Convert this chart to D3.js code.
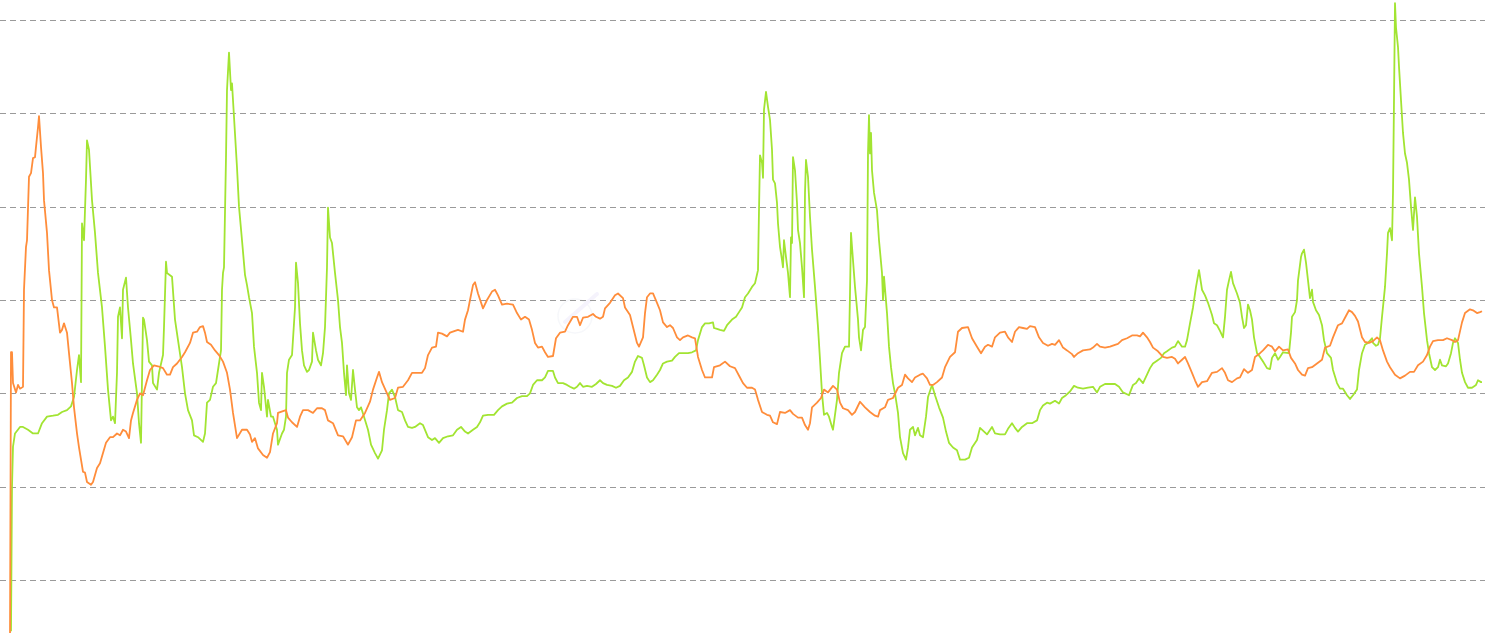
<!DOCTYPE html>
<html>
<head>
<meta charset="utf-8">
<script src="https://cdn.jsdelivr.net/npm/d3@7/dist/d3.min.js"></script>
<style>
  html, body { margin: 0; padding: 0; background: #ffffff; overflow: hidden; }
  svg { display: block; }
</style>
</head>
<body>
<svg id="chart" width="1490" height="633"></svg>
<script>
// ---- data ----
const yTicks = [0, 10, 20, 30, 40, 50, 60];
const tDomain = [0, 1473];

// orange series: [time index, value]
const seriesOrange = [
[0,-6.4],[1,24.4],[2,24.4],[3,21.1],[6,20.1],[8,20.9],[10,20.5],[13,20.7],[14,31.1],[16,35.7],[17,36.4],[19,43.2],[21,43.6],[23,45.2],[25,45.3],[26,46.4],[28,48.5],[29,49.7],[31,46.4],[33,43.6],[34,40.7],[37,37.2],[39,33.2],[42,30.0],[44,29.2],[47,29.2],[50,26.5],[52,26.8],[54,27.5],[57,26.5],[59,24.3],[62,21.1],[64,18.5],[67,15.7],[69,14.2],[73,11.6],[75,11.5],[77,10.5],[81,10.2],[83,10.5],[87,12.0],[90,12.5],[93,13.6],[96,14.7],[100,15.3],[103,15.3],[107,15.7],[110,15.5],[113,16.1],[116,15.9],[119,15.2],[121,17.1],[123,17.9],[127,19.3],[130,20.0],[133,19.8],[137,21.4],[140,22.5],[144,23.0],[148,22.9],[153,22.7],[157,22.0],[160,22.0],[163,22.8],[167,23.2],[172,23.9],[175,24.4],[180,25.4],[183,26.5],[187,26.6],[190,27.1],[193,27.2],[195,26.5],[197,25.5],[201,25.2],[205,24.6],[209,24.1],[213,23.4],[217,22.2],[220,20.4],[223,17.9],[227,15.2],[232,16.1],[237,16.1],[240,15.6],[242,14.8],[245,15.2],[248,14.1],[253,13.4],[257,13.1],[260,13.7],[263,15.7],[267,16.8],[268,17.9],[273,18.1],[276,18.2],[278,17.4],[282,16.9],[287,16.4],[290,17.5],[293,18.2],[298,18.2],[303,17.9],[307,18.4],[312,18.4],[315,18.2],[318,17.1],[323,16.8],[328,15.5],[333,15.4],[338,14.5],[342,15.3],[346,17.1],[350,17.1],[355,17.9],[360,19.1],[363,20.4],[367,21.7],[369,22.3],[372,21.2],[377,20.0],[380,19.3],[385,19.5],[388,20.6],[393,20.7],[398,21.4],[402,22.2],[407,22.2],[412,22.2],[415,22.7],[418,24.1],[422,24.9],[426,25.0],[428,26.5],[432,26.4],[437,26.1],[440,26.5],[445,26.7],[448,26.8],[453,26.6],[455,27.9],[458,28.9],[460,30.0],[463,31.6],[465,31.9],[468,30.7],[473,29.1],[477,30.0],[482,30.9],[485,31.1],[488,30.5],[492,29.5],[497,29.6],[503,29.5],[507,28.6],[511,27.9],[515,28.2],[519,27.9],[522,26.8],[525,25.4],[528,24.9],[532,25.0],[535,24.4],[538,23.9],[543,24.0],[546,25.9],[550,26.5],[555,26.6],[558,27.3],[563,28.2],[567,28.2],[570,27.3],[573,28.1],[578,28.2],[583,28.5],[586,28.2],[590,28.0],[593,28.2],[595,29.1],[600,29.7],[605,30.5],[608,30.7],[613,30.2],[615,29.2],[620,28.4],[623,27.1],[627,25.4],[629,25.0],[633,26.0],[635,28.6],[637,30.3],[640,30.7],[643,30.7],[647,29.7],[650,28.9],[653,27.6],[657,27.1],[660,27.3],[663,27.0],[667,26.0],[670,25.7],[673,26.0],[678,26.2],[682,26.0],[685,25.9],[688,23.9],[692,22.5],[695,21.7],[698,21.7],[702,21.7],[704,22.8],[710,23.0],[715,23.4],[720,22.9],[725,22.7],[730,21.7],[733,21.1],[737,20.6],[742,20.6],[745,20.4],[748,19.3],[752,18.0],[757,17.7],[760,17.6],[763,16.9],[767,16.7],[770,18.0],[775,17.9],[780,18.2],[783,17.8],[788,17.4],[792,17.4],[795,16.6],[798,16.1],[800,16.8],[802,18.5],[807,19.0],[811,19.5],[814,20.4],[818,20.1],[823,20.8],[827,20.4],[830,19.0],[833,18.4],[838,18.2],[842,17.7],[845,18.0],[850,19.1],[855,18.5],[860,18.0],[865,17.6],[868,17.5],[870,18.2],[875,18.5],[878,19.3],[883,19.5],[888,20.6],[892,20.9],[895,22.0],[898,21.6],[902,21.2],[905,21.7],[910,22.0],[913,22.1],[917,21.6],[920,20.9],[923,20.9],[927,21.2],[932,21.7],[935,22.8],[940,23.9],[945,24.4],[948,26.6],[952,27.0],[958,27.1],[962,25.9],[967,25.0],[971,24.3],[975,25.0],[978,25.2],[982,25.0],[985,26.0],[990,26.5],[995,26.6],[998,26.0],[1002,25.5],[1005,26.6],[1009,27.1],[1013,27.0],[1017,26.9],[1020,27.2],[1025,27.1],[1029,26.0],[1033,25.4],[1038,25.1],[1042,25.3],[1045,25.2],[1049,25.7],[1053,24.9],[1057,24.6],[1062,24.2],[1064,23.9],[1068,24.3],[1073,24.6],[1080,24.7],[1083,24.9],[1087,25.3],[1090,25.0],[1095,24.9],[1100,25.0],[1105,25.2],[1108,25.3],[1112,25.7],[1117,25.9],[1122,26.2],[1127,26.2],[1130,26.1],[1133,26.5],[1137,26.0],[1140,25.5],[1143,24.9],[1148,24.5],[1153,23.9],[1157,23.8],[1162,23.9],[1165,23.7],[1168,23.2],[1172,23.6],[1175,23.9],[1178,23.2],[1182,22.2],[1185,21.4],[1188,20.7],[1192,21.2],[1197,21.3],[1202,22.2],[1207,22.3],[1212,22.7],[1215,22.2],[1218,21.4],[1222,21.2],[1227,21.6],[1230,21.7],[1234,22.6],[1238,22.2],[1242,22.5],[1245,23.9],[1250,24.3],[1253,24.6],[1258,25.2],[1262,25.0],[1265,24.5],[1269,25.0],[1273,24.6],[1278,24.7],[1281,23.8],[1285,23.2],[1288,22.5],[1292,22.0],[1295,21.9],[1298,22.7],[1302,22.8],[1307,23.2],[1312,23.6],[1315,24.9],[1320,25.1],[1323,26.0],[1328,27.3],[1332,27.5],[1335,28.1],[1339,28.9],[1342,28.7],[1345,28.3],[1348,27.7],[1352,26.0],[1355,25.5],[1359,25.4],[1363,25.6],[1367,26.0],[1370,25.7],[1373,24.6],[1377,23.4],[1380,22.8],[1385,22.0],[1390,21.6],[1395,21.9],[1400,22.3],[1404,22.3],[1408,23.0],[1413,23.4],[1417,24.1],[1420,25.0],[1423,25.6],[1428,25.7],[1433,25.7],[1437,25.9],[1442,25.7],[1445,25.5],[1448,25.7],[1452,27.6],[1455,28.6],[1460,29.0],[1463,28.9],[1467,28.6],[1470,28.7],[1472,28.8]
];

// green series: [time index, value]
const seriesGreen = [
[1,-5.5],[2,10.0],[3,14.3],[5,15.7],[10,16.4],[13,16.4],[18,16.1],[23,15.7],[28,15.7],[32,16.8],[37,17.5],[43,17.6],[48,17.7],[52,18.0],[57,18.2],[61,18.6],[64,19.6],[67,22.5],[69,24.1],[71,21.2],[72,38.2],[74,36.4],[76,42.9],[77,47.1],[79,46.1],[82,40.7],[85,37.2],[88,32.9],[92,29.2],[95,25.0],[98,20.4],[101,17.1],[103,17.5],[105,16.8],[107,22.2],[108,28.2],[110,29.2],[112,25.9],[113,31.1],[116,32.4],[118,29.2],[121,25.7],[123,23.2],[127,20.0],[129,16.8],[131,14.7],[133,28.1],[134,27.9],[137,25.7],[139,23.4],[142,23.0],[143,21.1],[147,20.4],[149,22.2],[153,24.1],[154,27.1],[156,34.1],[157,32.9],[162,32.5],[165,27.9],[168,25.7],[172,22.8],[175,20.0],[178,18.2],[182,17.1],[184,15.5],[188,15.3],[193,14.8],[195,15.7],[197,19.0],[200,19.3],[203,20.7],[206,21.1],[208,22.5],[211,24.6],[212,31.1],[213,32.9],[214,33.5],[216,45.3],[217,52.5],[219,56.5],[221,52.5],[222,53.2],[224,49.6],[227,44.2],[229,40.0],[232,36.4],[235,32.7],[237,31.6],[239,30.3],[242,28.6],[244,25.0],[247,22.2],[249,19.0],[251,18.2],[252,22.2],[254,20.7],[257,17.5],[258,19.3],[261,17.5],[263,17.5],[267,16.1],[268,14.5],[272,15.7],[274,16.1],[276,17.5],[277,22.2],[279,23.6],[282,24.1],[285,29.2],[286,34.0],[288,31.8],[290,27.5],[292,24.6],[294,23.0],[297,22.3],[299,22.5],[302,23.4],[303,26.5],[306,24.6],[308,23.6],[311,23.0],[313,24.3],[315,27.1],[317,33.5],[318,39.9],[320,36.7],[322,36.1],[325,32.9],[328,30.0],[330,27.1],[332,25.4],[334,22.2],[336,19.8],[337,23.0],[339,20.0],[341,19.3],[343,22.5],[345,20.4],[347,18.5],[349,18.2],[351,18.5],[354,17.5],[358,16.1],[361,14.5],[365,13.6],[368,13.0],[372,13.9],[374,16.1],[377,18.2],[379,20.0],[382,20.4],[385,19.6],[388,18.2],[392,18.0],[395,17.1],[398,16.4],[402,16.3],[405,16.4],[410,16.8],[413,16.6],[418,15.3],[422,15.0],[425,15.2],[429,14.7],[433,15.2],[438,15.4],[443,15.5],[447,16.1],[451,16.4],[455,15.9],[458,15.7],[463,16.1],[467,16.4],[470,16.9],[473,17.6],[478,17.7],[484,17.7],[488,18.2],[492,18.6],[497,18.9],[502,19.0],[507,19.5],[512,19.7],[517,19.7],[520,20.0],[523,20.9],[527,21.4],[532,21.4],[535,21.7],[538,22.4],[543,22.4],[545,21.7],[548,21.1],[553,21.1],[557,20.9],[560,20.7],[564,20.5],[567,20.7],[570,21.1],[573,20.7],[577,20.8],[582,20.7],[586,21.0],[590,21.4],[593,21.1],[597,20.9],[602,20.8],[606,20.6],[610,20.8],[614,21.4],[618,21.7],[622,22.3],[625,23.4],[628,24.0],[632,23.8],[634,23.0],[637,21.7],[640,21.2],[643,21.4],[647,22.0],[650,22.5],[653,23.2],[657,23.4],[662,23.5],[665,23.9],[669,24.3],[673,24.3],[678,24.3],[682,24.4],[686,24.6],[688,25.7],[692,27.1],[695,27.5],[699,27.5],[703,27.6],[704,27.0],[707,26.9],[710,26.8],[714,26.7],[717,27.3],[722,27.9],[726,28.2],[729,28.7],[732,29.2],[735,30.3],[738,30.7],[742,31.4],[745,31.8],[748,33.2],[749,39.6],[750,45.5],[752,44.7],[753,43.1],[754,50.4],[756,52.3],[758,50.7],[760,49.3],[762,46.1],[763,42.9],[765,42.5],[767,40.4],[768,38.2],[770,35.7],[772,34.3],[773,33.5],[774,36.4],[776,34.6],[778,32.9],[780,30.3],[781,36.7],[782,36.1],[783,45.3],[785,43.9],[787,40.4],[788,37.5],[790,36.1],[792,33.5],[794,30.3],[795,41.5],[796,45.0],[798,43.2],[800,38.9],[802,35.4],[805,31.4],[808,27.1],[810,23.6],[812,20.0],[814,17.7],[817,17.9],[819,17.5],[822,16.4],[823,16.1],[827,19.3],[829,22.2],[832,24.3],[835,25.0],[839,25.0],[840,30.7],[841,37.2],[842,35.7],[845,31.4],[848,27.9],[849,26.0],[851,24.6],[853,26.8],[855,27.1],[857,32.1],[858,45.7],[859,49.8],[860,45.7],[861,47.9],[862,43.9],[864,41.5],[867,39.6],[869,36.4],[872,32.9],[873,30.0],[874,32.5],[877,28.6],[879,25.0],[881,22.8],[883,21.1],[885,20.0],[888,17.9],[890,15.3],[893,13.6],[896,12.9],[898,14.2],[900,16.1],[903,16.4],[905,15.5],[908,16.3],[910,15.5],[913,15.3],[916,17.5],[918,19.6],[922,20.9],[925,19.8],[929,18.5],[933,17.4],[936,15.9],[939,14.7],[943,14.2],[947,13.9],[950,12.9],[955,12.9],[959,13.1],[962,14.2],[967,15.0],[970,16.3],[973,16.0],[977,15.6],[982,16.4],[985,15.7],[990,15.6],[995,15.6],[998,16.2],[1002,16.8],[1005,16.3],[1008,15.9],[1012,16.4],[1017,16.8],[1022,16.8],[1027,17.1],[1030,18.2],[1033,18.7],[1037,19.0],[1040,18.9],[1045,19.2],[1049,18.9],[1052,19.5],[1056,19.8],[1060,20.2],[1064,20.8],[1068,20.6],[1073,20.5],[1078,20.6],[1083,20.7],[1087,20.1],[1090,20.7],[1095,21.0],[1100,21.0],[1105,21.0],[1109,20.7],[1113,20.1],[1117,19.9],[1119,19.8],[1123,20.9],[1126,21.1],[1129,21.6],[1133,21.1],[1137,22.0],[1140,22.7],[1143,23.2],[1147,23.5],[1151,23.8],[1154,24.3],[1157,24.5],[1162,24.9],[1165,25.0],[1168,25.6],[1172,25.0],[1175,25.0],[1177,25.7],[1180,27.5],[1183,29.2],[1186,31.4],[1189,33.2],[1192,31.1],[1195,30.5],[1198,29.7],[1202,28.4],[1204,27.5],[1207,27.3],[1210,26.7],[1213,26.0],[1215,28.2],[1217,31.1],[1219,32.1],[1221,33.0],[1223,31.8],[1227,30.7],[1230,29.7],[1232,28.2],[1234,27.0],[1236,27.3],[1238,29.5],[1240,28.9],[1242,27.9],[1244,26.0],[1247,24.3],[1250,23.9],[1253,23.4],[1257,22.7],[1260,22.6],[1262,23.8],[1265,24.3],[1268,23.6],[1270,23.9],[1273,24.4],[1279,24.3],[1281,26.5],[1282,28.2],[1285,28.7],[1287,30.0],[1288,32.1],[1291,34.6],[1292,35.0],[1294,35.4],[1296,34.0],[1298,32.1],[1300,30.2],[1302,31.1],[1303,29.8],[1306,28.9],[1309,28.4],[1312,27.3],[1314,25.7],[1317,24.3],[1321,23.8],[1323,22.5],[1327,21.1],[1330,20.5],[1333,20.5],[1337,19.8],[1340,19.4],[1343,19.8],[1347,20.4],[1349,22.5],[1352,24.3],[1355,25.2],[1358,25.4],[1362,25.9],[1363,25.4],[1366,25.1],[1368,25.2],[1370,25.9],[1372,28.2],[1375,31.4],[1377,35.0],[1378,37.2],[1380,37.7],[1382,36.4],[1383,41.5],[1384,51.4],[1385,61.8],[1386,59.2],[1388,57.1],[1389,55.0],[1391,51.4],[1393,47.9],[1395,45.7],[1397,44.7],[1399,42.9],[1401,40.0],[1403,37.5],[1405,41.0],[1407,38.9],[1409,35.0],[1412,31.4],[1414,28.6],[1417,25.7],[1419,24.3],[1422,22.8],[1425,22.5],[1428,22.8],[1430,23.6],[1432,23.0],[1436,22.9],[1438,23.2],[1441,24.3],[1443,25.4],[1445,25.9],[1448,25.4],[1450,23.6],[1452,22.2],[1455,21.2],[1458,20.6],[1462,20.6],[1466,20.9],[1468,21.4],[1471,21.2],[1472,21.2]
];

const colorOrange = "#ff8d3b";
const colorGreen = "#a2e432";

// ---- layout ----
const svg = d3.select("#chart");

const x = d3.scaleLinear().domain(tDomain).range([10, 1483]);
const y = d3.scaleLinear().domain([0, 60]).range([580, 20]);

// watermark (faint)
const wm = svg.append("g").attr("transform", "translate(575,316)").attr("opacity", 0.5);
wm.append("circle").attr("r", 17).attr("fill", "none").attr("stroke", "#eef0f6").attr("stroke-width", 1.5);
wm.append("path").attr("d", "M-10,6 L22,-22").attr("stroke", "#ece8fb").attr("stroke-width", 4).attr("stroke-linecap", "round");

// gridlines (axis with full-width ticks, no labels)
const grid = svg.append("g")
  .attr("class", "grid")
  .call(d3.axisLeft(y).tickValues(yTicks).tickSize(-1485).tickFormat(""));
grid.select(".domain").remove();
grid.selectAll(".tick line")
  .attr("stroke", "#9a9a9a")
  .attr("stroke-width", 1)
  .attr("stroke-dasharray", "6,4")
  .attr("shape-rendering", "crispEdges");

const line = d3.line()
  .x(d => x(d[0]))
  .y(d => y(d[1]));

svg.append("path")
  .datum(seriesGreen)
  .attr("fill", "none")
  .attr("stroke", colorGreen)
  .attr("stroke-width", 1.8)
  .attr("stroke-linejoin", "round")
  .attr("d", line);

svg.append("path")
  .datum(seriesOrange)
  .attr("fill", "none")
  .attr("stroke", colorOrange)
  .attr("stroke-width", 1.8)
  .attr("stroke-linejoin", "round")
  .attr("d", line);
</script>
</body>
</html>
